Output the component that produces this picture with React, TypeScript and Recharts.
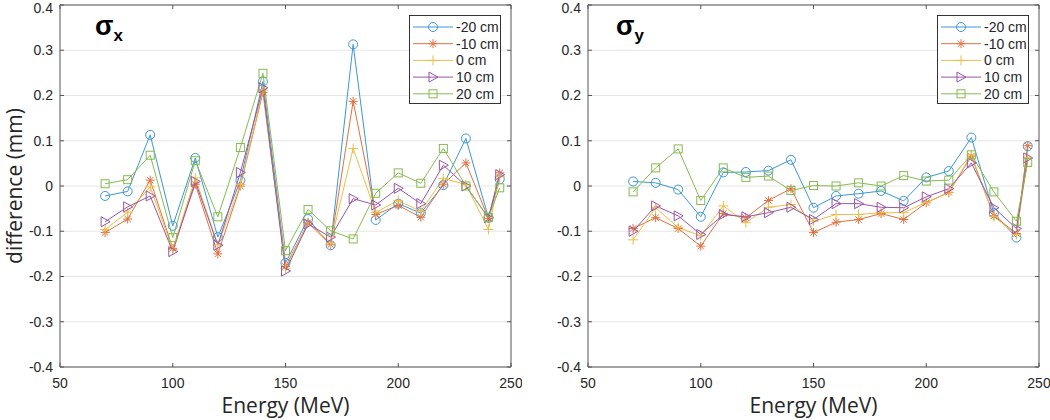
import React from 'react';
import { LineChart, Line, XAxis, YAxis, CartesianGrid, ReferenceLine } from 'recharts';

// beam energy (MeV)
const ENERGY = [70, 80, 90, 100, 110, 120, 130, 140, 150, 160, 170, 180, 190, 200, 210, 220, 230, 240, 245];

// sigma x difference (mm)
const SX_M20 = [-0.022, -0.012, 0.113, -0.088, 0.062, -0.113, 0.012, 0.231, -0.17, -0.073, -0.131, 0.313, -0.075, -0.039, -0.06, 0.002, 0.105, -0.07, 0.015];
const SX_M10 = [-0.103, -0.073, 0.013, -0.138, 0.004, -0.15, 0.0, 0.207, -0.178, -0.081, -0.13, 0.187, -0.063, -0.043, -0.069, 0.004, 0.051, -0.072, 0.029];
const SX_Z0 = [-0.096, -0.058, -0.002, -0.14, 0.018, -0.13, 0.003, 0.212, -0.182, -0.08, -0.126, 0.083, -0.058, -0.032, -0.056, 0.017, 0.003, -0.096, 0.021];
const SX_P10 = [-0.079, -0.046, -0.022, -0.145, 0.01, -0.131, 0.03, 0.217, -0.188, -0.084, -0.113, -0.028, -0.042, -0.005, -0.039, 0.046, 0.0, -0.07, 0.025];
const SX_P20 = [0.005, 0.014, 0.068, -0.114, 0.056, -0.068, 0.085, 0.249, -0.143, -0.052, -0.099, -0.117, -0.016, 0.029, 0.006, 0.083, 0.0, -0.07, -0.004];

// sigma y difference (mm)
const SY_M20 = [0.01, 0.007, -0.008, -0.068, 0.03, 0.031, 0.034, 0.058, -0.048, -0.022, -0.017, -0.011, -0.033, 0.019, 0.033, 0.107, -0.06, -0.114, 0.088];
const SY_M10 = [-0.094, -0.07, -0.094, -0.133, -0.061, -0.07, -0.032, -0.006, -0.103, -0.08, -0.074, -0.061, -0.074, -0.037, -0.014, 0.066, -0.066, -0.105, 0.089];
const SY_Z0 = [-0.119, -0.048, -0.092, -0.11, -0.044, -0.081, -0.047, -0.041, -0.078, -0.063, -0.063, -0.059, -0.059, -0.036, -0.015, 0.069, -0.068, -0.107, 0.062];
const SY_P10 = [-0.1, -0.044, -0.066, -0.107, -0.063, -0.068, -0.059, -0.047, -0.074, -0.039, -0.039, -0.047, -0.048, -0.024, -0.006, 0.051, -0.048, -0.094, 0.062];
const SY_P20 = [-0.013, 0.04, 0.082, -0.032, 0.04, 0.019, 0.022, -0.01, 0.001, 0.0, 0.007, 0.0, 0.023, 0.011, 0.013, 0.069, -0.013, -0.078, 0.052];

const X_TICKS = [50, 100, 150, 200, 250];
const Y_TICKS = [-0.4, -0.3, -0.2, -0.1, 0, 0.1, 0.2, 0.3, 0.4];
const SERIES_NAMES = ['-20 cm', '-10 cm', '0 cm', '10 cm', '20 cm'];

const SERIES = [
  { key: 'm20', color: '#3d97d3', marker: 'circle' },
  { key: 'm10', color: '#e2703f', marker: 'star' },
  { key: 'z0', color: '#efbd45', marker: 'plus' },
  { key: 'p10', color: '#9755a8', marker: 'tri' },
  { key: 'p20', color: '#86bb50', marker: 'square' },
];

const AXIS = '#555555';
const TEXT = '#262626';
const TICK_FONT = { fontFamily: 'Liberation Sans, Arial, sans-serif', fontSize: 14, fill: TEXT };

function buildRows(cols: number[][]) {
  return ENERGY.map((e, i) => {
    const row: any = { x: e };
    SERIES.forEach((s, j) => {
      row[s.key] = cols[j][i];
    });
    return row;
  });
}

const SX_DATA = buildRows([SX_M20, SX_M10, SX_Z0, SX_P10, SX_P20]);
const SY_DATA = buildRows([SY_M20, SY_M10, SY_Z0, SY_P10, SY_P20]);

function Marker({ type, cx, cy, color }: { type: string; cx: number; cy: number; color: string }) {
  if (cx == null || cy == null) return null;
  const common = { fill: 'none', stroke: color, strokeWidth: 1 };
  switch (type) {
    case 'circle':
      return <circle cx={cx} cy={cy} r={4.5} {...common} />;
    case 'star':
      return (
        <path
          d={`M${cx - 4.5},${cy}H${cx + 4.5}M${cx},${cy - 4.5}V${cy + 4.5}M${cx - 3.2},${cy - 3.2}L${cx + 3.2},${cy + 3.2}M${cx - 3.2},${cy + 3.2}L${cx + 3.2},${cy - 3.2}`}
          {...common}
        />
      );
    case 'plus':
      return <path d={`M${cx - 5},${cy}H${cx + 5}M${cx},${cy - 5}V${cy + 5}`} {...common} />;
    case 'tri':
      return <path d={`M${cx - 4},${cy - 5}L${cx + 5},${cy}L${cx - 4},${cy + 5}Z`} {...common} />;
    default:
      return <rect x={cx - 4} y={cy - 4} width={8} height={8} {...common} />;
  }
}

function LegendBox({ left, top }: { left: number; top: number }) {
  return (
    <svg width={93} height={90} style={{ position: 'absolute', left, top }}>
      <rect x={0.5} y={0.5} width={91} height={88} fill="#fff" stroke="#333" strokeWidth={1} />
      {SERIES.map((s, i) => {
        const y = 12 + i * 16.7;
        return (
          <g key={s.key}>
            <line x1={4} x2={44} y1={y} y2={y} stroke={s.color} strokeWidth={1} />
            <Marker type={s.marker} cx={24} cy={y} color={s.color} />
            <text x={47} y={y + 5} style={TICK_FONT as any}>
              {SERIES_NAMES[i]}
            </text>
          </g>
        );
      })}
    </svg>
  );
}

function Panel({ data, left, sub, titleX, yLabel }: { data: any[]; left: number; sub: string; titleX: number; yLabel: boolean }) {
  const TY = 0.009;
  const TX = 1.8;
  return (
    <div style={{ position: 'absolute', left, top: 0, width: 522, height: 420 }}>
      <LineChart width={522} height={420} data={data} margin={{ top: 5, right: 11, left: 0, bottom: 0 }}>
        <CartesianGrid vertical={false} stroke="#e6e6e6" horizontalValues={Y_TICKS} />
        <XAxis
          dataKey="x"
          type="number"
          domain={[50, 250]}
          ticks={X_TICKS}
          allowDataOverflow
          height={53}
          tickLine={false}
          tickSize={6}
          tickMargin={5}
          axisLine={{ stroke: AXIS }}
          tick={TICK_FONT}
          label={{
            content: (p: any) => {
              const vb = p.viewBox;
              return (
                <text
                  x={vb.x + vb.width / 2}
                  y={vb.y + 46}
                  textAnchor="middle"
                  style={{ fontFamily: 'Open Sans, sans-serif', fontSize: 21, fill: TEXT }}
                >
                  Energy (MeV)
                </text>
              );
            },
          }}
        />
        <YAxis
          type="number"
          domain={[-0.4, 0.4]}
          ticks={Y_TICKS}
          allowDataOverflow
          width={60}
          tickLine={false}
          tickSize={4}
          tickMargin={3}
          axisLine={{ stroke: AXIS }}
          tick={TICK_FONT}
          tickFormatter={(v: number) => (v === 0 ? '0' : v.toFixed(1))}
          label={
            yLabel
              ? {
                  content: (p: any) => {
                    const vb = p.viewBox;
                    const cy = vb.y + vb.height / 2;
                    return (
                      <text
                        x={22}
                        y={cy}
                        transform={`rotate(-90 22 ${cy})`}
                        textAnchor="middle"
                        style={{ fontFamily: 'Open Sans, sans-serif', fontSize: 21, fill: TEXT }}
                      >
                        difference (mm)
                      </text>
                    );
                  },
                }
              : undefined
          }
        />
        <ReferenceLine y={0.4} stroke={AXIS} />
        <ReferenceLine x={250} stroke={AXIS} />
        {X_TICKS.map((t) => (
          <ReferenceLine key={`xb${t}`} segment={[{ x: t, y: -0.4 }, { x: t, y: -0.4 + TY }]} stroke={AXIS} />
        ))}
        {X_TICKS.map((t) => (
          <ReferenceLine key={`xt${t}`} segment={[{ x: t, y: 0.4 }, { x: t, y: 0.4 - TY }]} stroke={AXIS} />
        ))}
        {Y_TICKS.map((t) => (
          <ReferenceLine key={`yl${t}`} segment={[{ x: 50, y: t }, { x: 50 + TX, y: t }]} stroke={AXIS} />
        ))}
        {Y_TICKS.map((t) => (
          <ReferenceLine key={`yr${t}`} segment={[{ x: 250, y: t }, { x: 250 - TX, y: t }]} stroke={AXIS} />
        ))}
        {SERIES.map((s) => (
          <Line
            key={s.key}
            type="linear"
            dataKey={s.key}
            stroke={s.color}
            strokeWidth={1}
            isAnimationActive={false}
            activeDot={false}
            dot={(p: any) => (
              <g key={`${s.key}-${p.index}`}>
                <Marker type={s.marker} cx={p.cx} cy={p.cy} color={s.color} />
              </g>
            )}
          />
        ))}
      </LineChart>
      <svg width={80} height={50} style={{ position: 'absolute', left: titleX, top: 8 }}>
        <text x={0} y={27} style={{ fontFamily: 'Liberation Sans, Arial, sans-serif', fontWeight: 'bold', fontSize: 27, fill: '#000' }}>
          σ
          <tspan fontSize={17} dy={6}>
            {sub}
          </tspan>
        </text>
      </svg>
      <LegendBox left={409} top={15} />
    </div>
  );
}

export default function App() {
  return (
    <div style={{ position: 'absolute', left: 0, top: 0, width: 1050, height: 420, background: '#fff' }}>
      <Panel data={SX_DATA} left={0} sub="x" titleX={95} yLabel />
      <Panel data={SY_DATA} left={528} sub="y" titleX={88} yLabel={false} />
    </div>
  );
}
